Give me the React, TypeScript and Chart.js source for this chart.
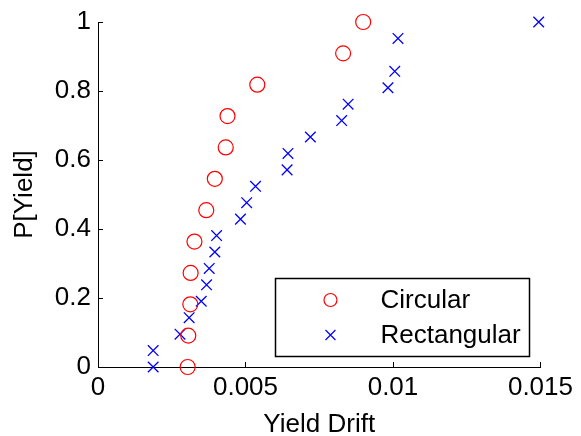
import React, { useEffect, useRef } from 'react';
import { Chart, registerables } from 'chart.js';

Chart.register(...registerables);

// Empirical yield-drift distributions for two column types
const circularDrift = [0.00304, 0.00306, 0.00313, 0.00314, 0.00327, 0.00367, 0.00396, 0.00433, 0.00439, 0.0054, 0.00831, 0.00899];
const circularProb = [0, 0.0909, 0.1818, 0.2727, 0.3636, 0.4545, 0.5455, 0.6364, 0.7273, 0.8182, 0.9091, 1];

const rectDrift = [0.00187, 0.00187, 0.00278, 0.00309, 0.0035, 0.00368, 0.00377, 0.00396, 0.00402, 0.00483, 0.00504, 0.00534, 0.00641, 0.00644, 0.0072, 0.00826, 0.00848, 0.00983, 0.01006, 0.01017, 0.01494];
const rectProb = [0, 0.0476, 0.0952, 0.1429, 0.1905, 0.2381, 0.2857, 0.3333, 0.381, 0.4286, 0.4762, 0.5238, 0.5714, 0.619, 0.6667, 0.7143, 0.7619, 0.8095, 0.8571, 0.9524, 1];

const xTickValues = [0, 0.005, 0.01, 0.015];
const xTickLabels = ['0', '0.005', '0.01', '0.015'];
const yTickValues = [0, 0.2, 0.4, 0.6, 0.8, 1];
const yTickLabels = ['0', '0.2', '0.4', '0.6', '0.8', '1'];

const seriesNames = ['Circular', 'Rectangular'];
const seriesColors = ['#ff0000', '#0000ff'];

const FONT = "Arial, 'Liberation Sans', sans-serif";

const toPoints = (xs: number[], ys: number[]) => xs.map((x, i) => ({ x, y: ys[i] }));

// MATLAB-style inward tick marks on the left and bottom axes
const inwardTicks = {
  id: 'inwardTicks',
  afterDraw(chart: any) {
    const { ctx, chartArea, scales } = chart;
    ctx.save();
    ctx.strokeStyle = '#000';
    ctx.lineWidth = 1;
    const len = 5;
    scales.x.ticks.forEach((t: any) => {
      const px = Math.round(scales.x.getPixelForValue(t.value)) + 0.5;
      ctx.beginPath();
      ctx.moveTo(px, chartArea.bottom);
      ctx.lineTo(px, chartArea.bottom - len);
      ctx.stroke();
    });
    scales.y.ticks.forEach((t: any) => {
      const py = Math.round(scales.y.getPixelForValue(t.value)) + 0.5;
      ctx.beginPath();
      ctx.moveTo(chartArea.left, py);
      ctx.lineTo(chartArea.left + len, py);
      ctx.stroke();
    });
    ctx.restore();
  },
};

// Boxed legend in the lower-right corner of the plot area
const boxedLegend = {
  id: 'boxedLegend',
  afterDraw(chart: any) {
    const { ctx, chartArea } = chart;
    const w = 254;
    const h = 78;
    const right = chartArea.right - 11;
    const bottom = chartArea.bottom - 11;
    const left = right - w;
    const top = bottom - h;
    ctx.save();
    ctx.fillStyle = '#fff';
    ctx.fillRect(left, top, w, h);
    ctx.strokeStyle = '#000';
    ctx.lineWidth = 1.5;
    ctx.strokeRect(Math.round(left) + 0.5, Math.round(top) + 0.5, w, h);
    const rows = [top + 22, top + 57];
    const markerX = left + 55;
    const textX = left + 105;
    ctx.font = `26px ${FONT}`;
    ctx.textBaseline = 'middle';
    ctx.textAlign = 'left';
    rows.forEach((ry, i) => {
      ctx.strokeStyle = seriesColors[i];
      ctx.lineWidth = 1.2;
      ctx.beginPath();
      if (i === 0) {
        ctx.arc(markerX, ry, 6.5, 0, Math.PI * 2);
      } else {
        const d = 5;
        ctx.moveTo(markerX - d, ry - d);
        ctx.lineTo(markerX + d, ry + d);
        ctx.moveTo(markerX - d, ry + d);
        ctx.lineTo(markerX + d, ry - d);
      }
      ctx.stroke();
      ctx.fillStyle = '#000';
      ctx.fillText(seriesNames[i], textX, ry + 1);
    });
    ctx.restore();
  },
};

export default function App() {
  const ref = useRef<HTMLCanvasElement | null>(null);

  useEffect(() => {
    if (!ref.current) return;
    const chart = new Chart(ref.current, {
      type: 'scatter',
      data: {
        datasets: [
          {
            label: seriesNames[0],
            data: toPoints(circularDrift, circularProb),
            pointStyle: 'circle',
            pointRadius: 7.5,
            borderColor: seriesColors[0],
            backgroundColor: 'rgba(0,0,0,0)',
            borderWidth: 1.2,
            clip: false,
          } as any,
          {
            label: seriesNames[1],
            data: toPoints(rectDrift, rectProb),
            pointStyle: 'crossRot',
            pointRadius: 7.5,
            borderColor: seriesColors[1],
            backgroundColor: seriesColors[1],
            borderWidth: 1.3,
            clip: false,
          } as any,
        ],
      },
      options: {
        responsive: false,
        animation: false,
        events: [],
        layout: { padding: { left: 0, top: 22, right: 38, bottom: 0 } },
        plugins: {
          legend: { display: false },
          tooltip: { enabled: false },
        },
        scales: {
          x: {
            type: 'linear',
            min: 0,
            max: 0.015,
            afterFit: (s: any) => { s.height = 69; },
            afterBuildTicks: (s: any) => { s.ticks = xTickValues.map((v) => ({ value: v })); },
            ticks: {
              color: '#000',
              padding: 8,
              font: { family: FONT, size: 26, lineHeight: 1 },
              maxRotation: 0,
              callback: (v: any) => xTickLabels[xTickValues.indexOf(Number(v))] ?? '',
            },
            grid: { display: false, drawTicks: false },
            border: { display: true, color: '#000', width: 1 },
            title: {
              display: true,
              text: 'Yield Drift',
              color: '#000',
              font: { family: FONT, size: 26, lineHeight: 1 },
              padding: { top: 0, bottom: -2 },
            },
          },
          y: {
            type: 'linear',
            min: 0,
            max: 1,
            afterFit: (s: any) => { s.width = 98; },
            afterBuildTicks: (s: any) => { s.ticks = yTickValues.map((v) => ({ value: v })); },
            ticks: {
              color: '#000',
              padding: 7,
              font: { family: FONT, size: 26, lineHeight: 1 },
              callback: (v: any) => yTickLabels[yTickValues.indexOf(Number(v))] ?? '',
            },
            grid: { display: false, drawTicks: false },
            border: { display: true, color: '#000', width: 1 },
            title: {
              display: true,
              text: 'P[Yield]',
              color: '#000',
              font: { family: FONT, size: 26, lineHeight: 1 },
              padding: { top: 12, bottom: 0 },
            },
          },
        },
      },
      plugins: [inwardTicks, boxedLegend],
    });
    return () => chart.destroy();
  }, []);

  return (
    <div style={{ position: 'absolute', left: 0, top: 0, width: 581, height: 436, background: '#fff' }}>
      <canvas ref={ref} width={581} height={436} style={{ display: 'block' }} />
    </div>
  );
}
